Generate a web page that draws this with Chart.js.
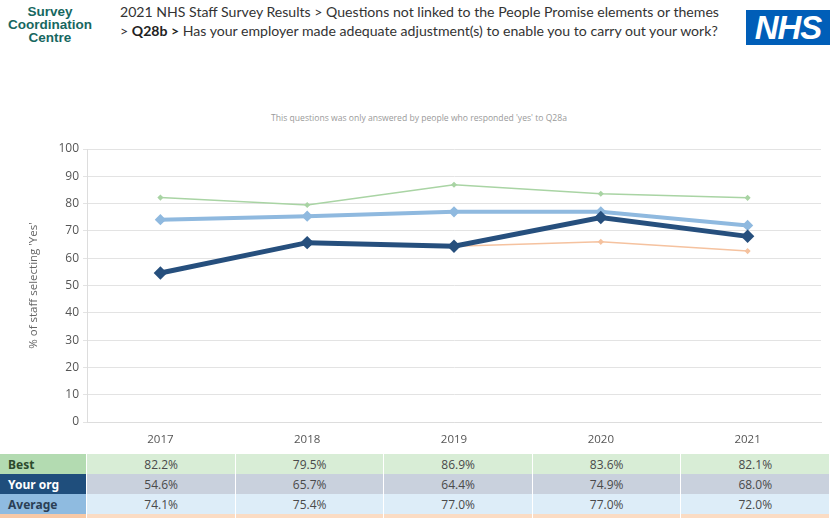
<!DOCTYPE html>
<html>
<head>
<meta charset="utf-8">
<script src="https://cdn.jsdelivr.net/npm/chart.js@4.4.1/dist/chart.umd.min.js"></script>
<style>
  html, body { margin: 0; padding: 0; background: #fff; }
  body { width: 830px; height: 518px; position: relative; overflow: hidden; font-family: "Open Sans", "Noto Sans", sans-serif; }
  #logoText { position: absolute; left: 1px; top: 5px; width: 98px; text-align: center; font-family: "Liberation Sans", Arial, sans-serif; font-weight: bold; font-size: 13.5px; line-height: 13px; color: #17675f; }
  #title { position: absolute; left: 120px; top: 3px; font-family: Lato, sans-serif; font-size: 14.1px; line-height: 18.5px; color: #333; white-space: nowrap; }
  #title b { color: #222; }
  #nhs { position: absolute; left: 746px; top: 10px; width: 84px; height: 35px; background: #005eb8; color: #fff; font-family: "Liberation Sans", Arial, sans-serif; font-weight: bold; font-style: italic; font-size: 33px; line-height: 35px; text-align: center; letter-spacing: -1px; }
  #note { position: absolute; left: 0; width: 838px; top: 112px; text-align: center; font-size: 8.6px; color: #9a9a9a; }
  #wrap { position: absolute; left: 0; top: 0; width: 830px; height: 450px; }
  table { position: absolute; left: 0; top: 454px; border-collapse: collapse; font-size: 12px; }
  td { height: 20px; padding: 0; text-align: center; border-right: 1px solid #fff; color: #4a4a4a; }
  td.lab { width: 87px; text-align: left; padding-left: 8px; box-sizing: border-box; font-family: "Noto Sans", sans-serif; font-weight: bold; }
  td.val { width: 148px; }
</style>
</head>
<body>
<div id="logoText">Survey<br>Coordination<br>Centre</div>
<div id="title">2021 NHS Staff Survey Results &gt; Questions not linked to the People Promise elements or themes<br>&gt; <b>Q28b &gt;</b> Has your employer made adequate adjustment(s) to enable you to carry out your work?</div>
<div id="nhs">NHS</div>
<div id="note">This questions was only answered by people who responded 'yes' to Q28a</div>
<div id="wrap"><canvas id="surveyChart"></canvas></div>
<table id="dataTable"></table>
<script>
const years = ['2017', '2018', '2019', '2020', '2021']
const best = [82.2, 79.5, 86.9, 83.6, 82.1]
const yourOrg = [54.6, 65.7, 64.4, 74.9, 68.0]
const average = [74.1, 75.4, 77.0, 77.0, 72.0]
const worst = [null, null, 64.4, 66.0, 62.6]
const yTicks = [0, 10, 20, 30, 40, 50, 60, 70, 80, 90, 100]

// ======= table under the chart =======
const rows = [
  { label: 'Best', values: best, labBg: '#b3dbb1', labColor: '#2d4a2d', cellBg: '#d8edd6' },
  { label: 'Your org', values: yourOrg, labBg: '#1f4e7c', labColor: '#fff', cellBg: '#c9d1dd' },
  { label: 'Average', values: average, labBg: '#8fbbe0', labColor: '#2b3f55', cellBg: '#ddedf8' },
  { label: '', values: [], labBg: '#f8c9a6', labColor: '#444', cellBg: '#fbdcc4' }
]
const table = document.getElementById('dataTable')
rows.forEach(r => {
  const tr = document.createElement('tr')
  const lab = document.createElement('td')
  lab.className = 'lab'
  lab.textContent = r.label
  lab.style.background = r.labBg
  lab.style.color = r.labColor
  tr.appendChild(lab)
  years.forEach((y, i) => {
    const td = document.createElement('td')
    td.className = 'val'
    td.style.background = r.cellBg
    td.textContent = r.values[i] != null ? r.values[i].toFixed(1) + '%' : ''
    tr.appendChild(td)
  })
  table.appendChild(tr)
})

// ======= line chart =======
const ctx = document.getElementById('surveyChart')
new Chart(ctx.getContext('2d'), {
  type: 'line',
  data: {
    labels: years,
    datasets: [
      {
        label: 'Best', data: best,
        borderColor: '#a9d4a4', backgroundColor: '#a9d4a4',
        borderWidth: 1.5, pointStyle: 'rectRot', pointRadius: 2, order: 3
      },
      {
        label: 'Worst', data: worst,
        borderColor: '#f5c29f', backgroundColor: '#f5c29f',
        borderWidth: 1.5, pointStyle: 'rectRot', pointRadius: 2, order: 4
      },
      {
        label: 'Average', data: average,
        borderColor: '#8fb9df', backgroundColor: '#8fb9df',
        borderWidth: 4, pointStyle: 'rectRot', pointRadius: 2.8, order: 2
      },
      {
        label: 'Your org', data: yourOrg,
        borderColor: '#264f7d', backgroundColor: '#264f7d',
        borderWidth: 5, pointStyle: 'rectRot', pointRadius: 3.2, order: 1
      }
    ]
  },
  options: {
    responsive: true,
    maintainAspectRatio: false,
    animation: false,
    layout: { padding: { top: 149, right: 3, left: 0, bottom: 0 } },
    plugins: {
      legend: { display: false },
      tooltip: { enabled: false }
    },
    scales: {
      x: {
        offset: true,
        grid: { display: false },
        border: { color: '#ddd' },
        ticks: { color: '#555', font: { family: 'Open Sans', size: 11.5 }, padding: 3 },
        afterFit: scale => { scale.height = 28 }
      },
      y: {
        min: 0, max: 100,
        afterBuildTicks: scale => { scale.ticks = yTicks.map(v => ({ value: v })) },
        grid: { color: '#e3e3e3', tickLength: 4 },
        border: { color: '#ddd' },
        ticks: { color: '#555', font: { family: 'Open Sans', size: 12 }, padding: 4 },
        title: {
          display: true,
          text: "% of staff selecting 'Yes'",
          color: '#666',
          font: { family: 'Open Sans', size: 11.5 },
          padding: { top: 27, bottom: 0 }
        },
        afterFit: scale => { scale.width = 87 }
      }
    }
  }
})
</script>
</body>
</html>
